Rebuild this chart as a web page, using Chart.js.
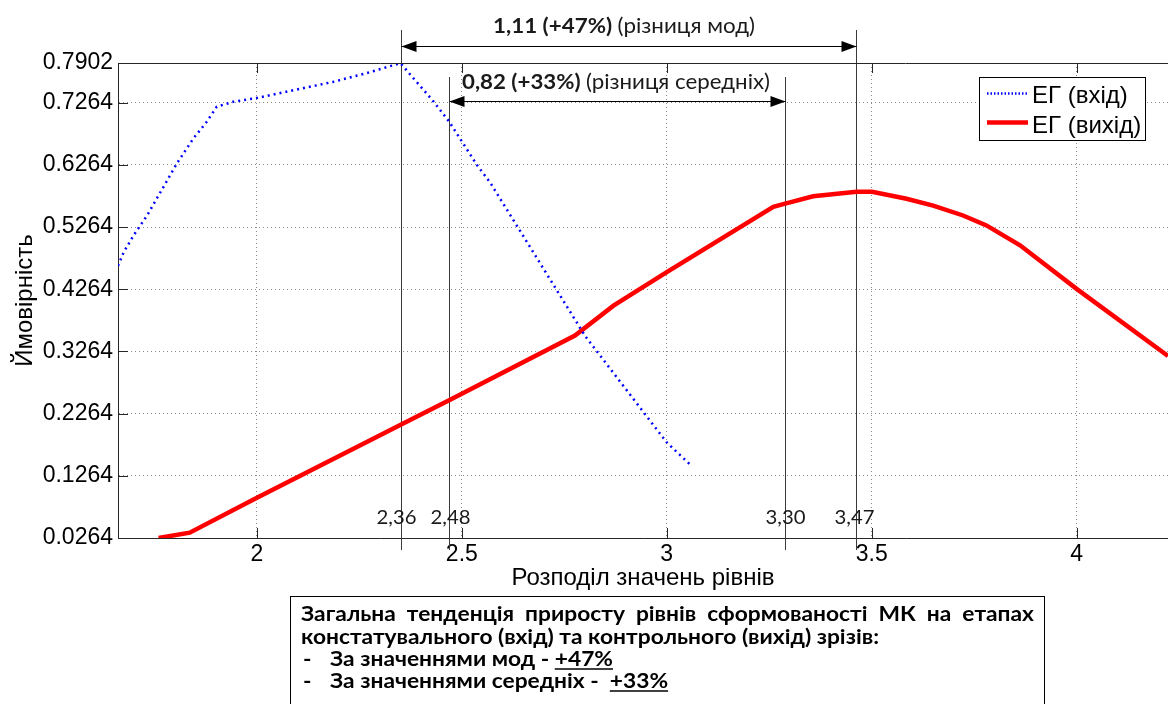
<!DOCTYPE html>
<html>
<head>
<meta charset="utf-8">
<script src="https://cdn.jsdelivr.net/npm/chart.js@4.4.0/dist/chart.umd.min.js"></script>
<style>
html, body { margin: 0; padding: 0; background: #fff; overflow: hidden; }
canvas { display: block; }
</style>
</head>
<body>
<canvas id="chart-eg" width="1168" height="704"></canvas>
<script>
"use strict"

// ЕГ (вхід)
var inX = [1.661, 1.675, 1.699, 1.732, 1.805, 1.845, 1.878, 1.902, 1.943, 2.000, 2.187, 2.268, 2.350, 2.430, 2.469, 2.537, 2.569, 2.801, 3.000, 3.061]
var inY = [0.464, 0.486, 0.513, 0.545, 0.629, 0.669, 0.696, 0.720, 0.728, 0.734, 0.760, 0.774, 0.790, 0.729, 0.696, 0.626, 0.598, 0.351, 0.180, 0.142]

// ЕГ (вихід)
var outX = [1.760, 1.836, 2.000, 2.352, 2.469, 2.776, 2.870, 3.000, 3.260, 3.289, 3.357, 3.463, 3.501, 3.585, 3.650, 3.723, 3.780, 3.862, 4.000, 4.223]
var outY = [0.0264, 0.035, 0.091, 0.209, 0.248, 0.352, 0.400, 0.454, 0.559, 0.564, 0.576, 0.583, 0.583, 0.572, 0.561, 0.545, 0.529, 0.497, 0.427, 0.319]

var seriesNames = ['ЕГ (вхід)', 'ЕГ (вихід)']

var xRange = [1.661, 4.223]
var xTicks = [2, 2.5, 3, 3.5, 4]
var yTicks = [0.0264, 0.1264, 0.2264, 0.3264, 0.4264, 0.5264, 0.6264, 0.7264, 0.7902]

// моди та середні
var markX = [2.352, 2.469, 3.289, 3.461]
var markKind = ['mode', 'mean', 'mean', 'mode']
var markLabels = ['2,36', '2,48', '3,30', '3,47']
var modeNote = ['1,11 (+47%)', '(різниця мод)']
var meanNote = ['0,82 (+33%)', '(різниця середніх)']

var noteLines = [
    'Загальна тенденція приросту рівнів сформованості МК на етапах',
    'констатувального (вхід) та контрольного (вихід) зрізів:'
]
var noteItems = ['За значеннями мод - ', 'За значеннями середніх -  ']
var notePct = ['+47%', '+33%']

var ink = '#262626'
var axisFont = 'Liberation Sans'
var noteFont = 'Lato'

function toPoints(xs, ys) {
    return xs.map(function (x, i) { return { x: x, y: ys[i] } })
}

function arrowHead(c, x, y, dir) {
    c.beginPath()
    c.moveTo(x, y)
    c.lineTo(x - dir * 15, y - 5.5)
    c.lineTo(x - dir * 15, y + 5.5)
    c.closePath()
    c.fill()
}

function doubleArrow(c, x1, x2, y) {
    c.beginPath()
    c.moveTo(x1, y + 0.5)
    c.lineTo(x2, y + 0.5)
    c.stroke()
    arrowHead(c, x1, y + 0.5, -1)
    arrowHead(c, x2, y + 0.5, 1)
}

// calibri-like: take the height from the size, squeeze to the width
function squeezed(c, text, x, y, k) {
    c.save()
    c.translate(x, y)
    c.scale(k, 1)
    c.fillText(text, 0, 0)
    c.restore()
}

function pairText(c, parts, x0, width, size, baseline) {
    var bold = 'bold ' + size + 'px ' + noteFont
    var norm = size + 'px ' + noteFont
    c.font = bold
    var wb = c.measureText(parts[0] + ' ').width
    c.font = norm
    var wn = c.measureText(parts[1]).width
    var k = width / (wb + wn)
    c.font = bold
    squeezed(c, parts[0], x0, baseline, k)
    c.font = norm
    squeezed(c, parts[1], x0 + wb * k, baseline, k)
}

var overlay = {
    id: 'overlay',
    beforeDatasetsDraw: function (chart) {
        var c = chart.ctx
        var sx = chart.scales.x
        c.save()
        c.strokeStyle = '#3a3a3a'
        c.lineWidth = 1
        markX.forEach(function (v, i) {
            var px = Math.round(sx.getPixelForValue(v)) + 0.5
            c.beginPath()
            c.moveTo(px, markKind[i] === 'mode' ? 30 : 77)
            c.lineTo(px, 550)
            c.stroke()
        })
        c.restore()
    },
    afterDraw: function (chart) {
        var c = chart.ctx
        var a = chart.chartArea
        var sx = chart.scales.x
        var sy = chart.scales.y
        c.save()

        // рамка зверху та внутрішні поділки
        c.strokeStyle = ink
        c.lineWidth = 1
        c.beginPath()
        c.moveTo(a.left, a.top + 0.5)
        c.lineTo(a.right, a.top + 0.5)
        xTicks.forEach(function (v) {
            var px = Math.round(sx.getPixelForValue(v)) + 0.5
            c.moveTo(px, a.bottom)
            c.lineTo(px, a.bottom - 10)
            c.moveTo(px, a.top)
            c.lineTo(px, a.top + 10)
        })
        yTicks.forEach(function (v) {
            var py = Math.round(sy.getPixelForValue(v)) + 0.5
            c.moveTo(a.left, py)
            c.lineTo(a.left + 10, py)
        })
        c.stroke()

        // стрілки різниць
        var mx = markX.map(function (v) { return Math.round(sx.getPixelForValue(v)) + 0.5 })
        c.fillStyle = '#000'
        c.strokeStyle = '#000'
        doubleArrow(c, mx[0], mx[3], 46)
        doubleArrow(c, mx[1], mx[2], 101)

        c.fillStyle = '#1a1a1a'
        c.textBaseline = 'alphabetic'
        c.textAlign = 'left'
        pairText(c, modeNote, 493, 262, 21, 33)
        pairText(c, meanNote, 462, 308, 21, 89)

        // підписи значень
        c.font = '20px ' + noteFont
        var lk = 40 / c.measureText(markLabels[0]).width
        var shift = [-5, 1, 0, -2]
        markLabels.forEach(function (t, i) {
            var w = c.measureText(t).width * lk
            squeezed(c, t, mx[i] + shift[i] - w / 2, 524, lk)
        })

        // легенда
        c.fillStyle = '#fff'
        c.fillRect(979, 77, 167, 64)
        c.strokeStyle = '#000'
        c.lineWidth = 1
        c.strokeRect(979.5, 77.5, 166, 63)
        var ds = chart.data.datasets
        var rows = [93.5, 122.5]
        ds.forEach(function (d, i) {
            c.save()
            c.strokeStyle = d.borderColor
            c.lineWidth = d.borderWidth
            c.setLineDash(i === 0 ? [1.5, 2] : [])
            c.beginPath()
            c.moveTo(987, rows[i])
            c.lineTo(1028, rows[i])
            c.stroke()
            c.restore()
        })
        c.fillStyle = '#000'
        c.textAlign = 'left'
        c.font = '24px ' + axisFont
        c.fillText(seriesNames[0], 1032, 103)
        c.fillText(seriesNames[1], 1032, 132.5)

        // примітка знизу
        c.strokeStyle = '#000'
        c.strokeRect(290.5, 596.5, 754, 120)
        c.font = 'bold 20px ' + noteFont
        var k = 578 / c.measureText(noteLines[1]).width
        c.fillStyle = '#000'
        var words = noteLines[0].split(' ')
        var wsum = words.reduce(function (t, w) { return t + c.measureText(w).width * k }, 0)
        var gap = (1034 - 301 - wsum) / (words.length - 1)
        var px = 301
        words.forEach(function (w) {
            squeezed(c, w, px, 621, k)
            px += c.measureText(w).width * k + gap
        })
        squeezed(c, noteLines[1], 301, 644, k)
        var base = [666, 688]
        noteItems.forEach(function (t, i) {
            squeezed(c, '-', 303, base[i], k)
            squeezed(c, t, 330, base[i], k)
            var x0 = 330 + c.measureText(t).width * k
            squeezed(c, notePct[i], x0, base[i], k)
            var w = c.measureText(notePct[i]).width * k
            c.lineWidth = 1.5
            c.beginPath()
            c.moveTo(x0, base[i] + 3)
            c.lineTo(x0 + w, base[i] + 3)
            c.stroke()
        })

        c.restore()
    }
}

var ctx = document.getElementById('chart-eg').getContext('2d')
var chartEg = new Chart(ctx, {
    type: 'line',
    data: {
        datasets: [{
            label: seriesNames[0],
            data: toPoints(inX, inY),
            borderColor: '#0000ff',
            borderWidth: 2.5,
            borderDash: [2, 4]
        }, {
            label: seriesNames[1],
            data: toPoints(outX, outY),
            borderColor: '#ff0000',
            borderWidth: 4.5
        }]
    },
    options: {
        responsive: false,
        animation: false,
        layout: { padding: { top: 63, right: 0, bottom: 0, left: 0 } },
        elements: { point: { radius: 0 }, line: { tension: 0 } },
        plugins: {
            legend: { display: false },
            tooltip: { enabled: false }
        },
        scales: {
            x: {
                type: 'linear',
                min: xRange[0],
                max: xRange[1],
                afterBuildTicks: function (s) { s.ticks = xTicks.map(function (v) { return { value: v } }) },
                afterFit: function (s) { s.height = 166 },
                grid: { color: '#8a8a8a', drawTicks: false },
                border: { color: ink, dash: [1, 3] },
                ticks: {
                    color: '#000',
                    padding: 5,
                    maxRotation: 0,
                    font: { family: axisFont, size: 23, lineHeight: 1 },
                    callback: function (v) { return String(v) }
                },
                title: {
                    display: true,
                    text: 'Розподіл значень рівнів',
                    color: '#000',
                    font: { family: axisFont, size: 24, lineHeight: 1 },
                    padding: { top: 0, bottom: 114 }
                }
            },
            y: {
                type: 'linear',
                min: yTicks[0],
                max: yTicks[yTicks.length - 1],
                afterBuildTicks: function (s) { s.ticks = yTicks.map(function (v) { return { value: v } }) },
                afterFit: function (s) { s.width = 118 },
                grid: { color: '#8a8a8a', drawTicks: false },
                border: { color: ink, dash: [1, 3] },
                ticks: {
                    color: '#000',
                    padding: 5,
                    font: { family: axisFont, size: 23, lineHeight: 1 },
                    callback: function (v) { return v.toFixed(4) }
                },
                title: {
                    display: true,
                    text: 'Ймовірність',
                    color: '#000',
                    font: { family: axisFont, size: 24, lineHeight: 1 },
                    padding: { top: 13, bottom: 0 }
                }
            }
        }
    },
    plugins: [overlay]
})
</script>
</body>
</html>
